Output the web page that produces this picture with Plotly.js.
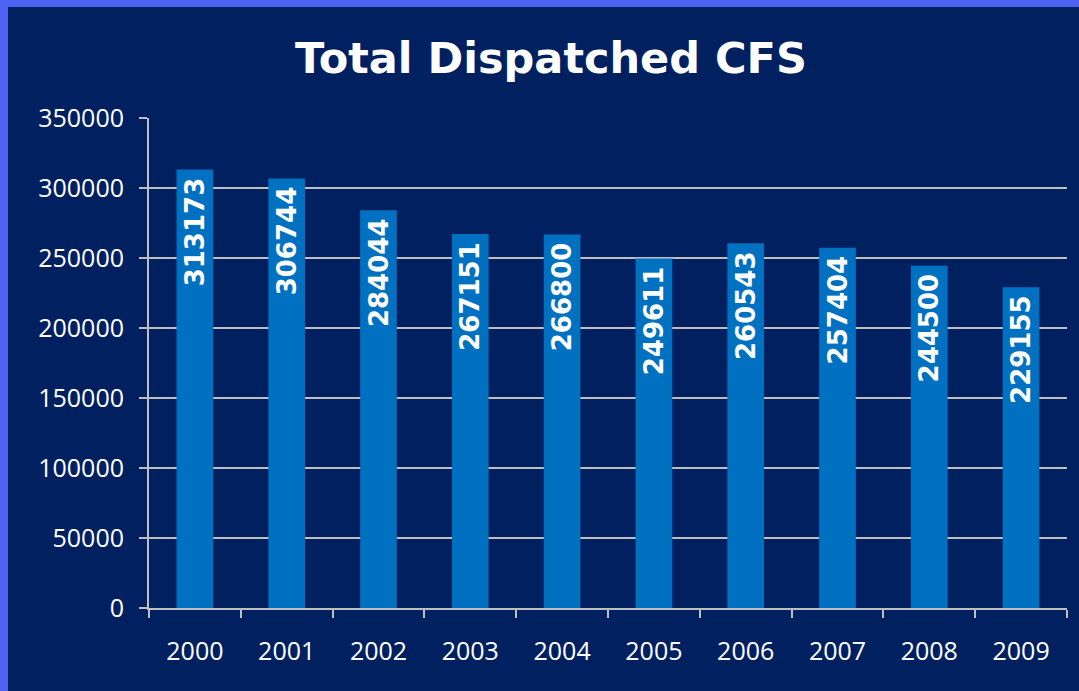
<!DOCTYPE html>
<html><head><meta charset="utf-8">
<script src="https://cdn.plot.ly/plotly-3.0.1.min.js"></script>
<style>
html,body{margin:0;padding:0;background:#4d62f0;width:1079px;height:691px;overflow:hidden;}
#chart{position:absolute;left:8px;top:7px;width:1071px;height:684px;}
</style></head>
<body><div id="chart"></div>
<script>
const years = ['2000','2001','2002','2003','2004','2005','2006','2007','2008','2009'];
const dispatched = [313173,306744,284044,267151,266800,249611,260543,257404,244500,229155];
const yTicks = [0,50000,100000,150000,200000,250000,300000,350000];

const trace = {
  type:'bar', x: years, y: dispatched,
  marker:{color:'#0070c0'},
  width:0.4,
  text: dispatched.map(v => String(v) + '\u2009'),
  textposition:'inside', insidetextanchor:'end', textangle:-90,
  constraintext:'none',
  textfont:{family:'DejaVu Sans, Verdana, sans-serif', size:26, color:'#ffffff', weight:'bold'},
  hoverinfo:'none'
};
const layout = {
  width:1071, height:684,
  paper_bgcolor:'#002060', plot_bgcolor:'#002060',
  margin:{l:141,r:12,t:111,b:83},
  title:{text:'<b>Total Dispatched CFS</b>', x:0.507, xanchor:'center', y:0.925, yanchor:'middle',
    font:{family:'DejaVu Sans, Verdana, sans-serif', size:43, color:'#ffffff'}},
  showlegend:false,
  bargap:0.6,
  xaxis:{type:'category', tickson:'boundaries', ticks:'outside', ticklen:8, tickcolor:'#bfbfbf', tickwidth:2,
    showline:true, linecolor:'#bfbfbf', linewidth:2, showgrid:false,
    tickfont:{family:'Open Sans, Noto Sans, sans-serif', size:25, color:'#ffffff'}, ticklabelstandoff:20},
  yaxis:{range:[0,350000], tickvals:yTicks, ticktext:yTicks.map(String), ticks:'outside', ticklen:8,
    tickcolor:'#bfbfbf', tickwidth:2, showline:true, linecolor:'#bfbfbf', linewidth:2,
    showgrid:true, gridcolor:'#bfbfbf', gridwidth:2, zeroline:false,
    tickfont:{family:'Open Sans, Noto Sans, sans-serif', size:25, color:'#ffffff'}, ticklabelstandoff:10}
};
Plotly.newPlot('chart',[trace],layout,{staticPlot:true});
</script></body></html>
